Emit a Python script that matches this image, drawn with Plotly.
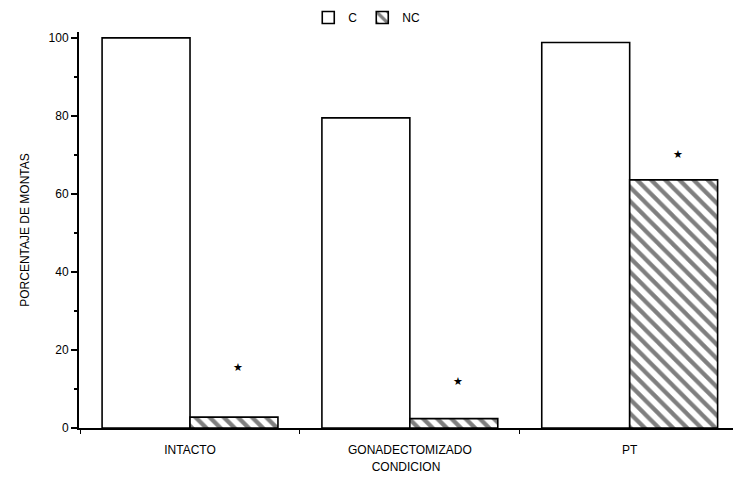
import plotly.graph_objects as go

categories = ["INTACTO", "GONADECTOMIZADO", "PT"]
c_values = [100, 79.5, 98.8]
nc_values = [2.8, 2.4, 63.6]
star_y = [15.5, 12.0, 70.0]
y_ticks = [0, 20, 40, 60, 80, 100]

FONT = "Liberation Sans, Arial, sans-serif"

fig = go.Figure()
fig.add_trace(go.Bar(
    name="C", x=categories, y=c_values,
    marker=dict(color="white", line=dict(color="black", width=1.6)),
))
fig.add_trace(go.Bar(
    name="NC", x=categories, y=nc_values,
    marker=dict(color="white", line=dict(color="black", width=1.6),
                pattern=dict(shape="\\", fgcolor="black", bgcolor="white",
                             size=10, solidity=0.42)),
))

for i, cat in enumerate(categories):
    fig.add_annotation(x=i, y=star_y[i], xref="x", yref="y", xshift=48,
                       text="★", showarrow=False,
                       font=dict(size=11, color="black", family="DejaVu Sans"))

fig.update_layout(
    width=733, height=479,
    margin=dict(l=79, r=0, t=32, b=51),
    paper_bgcolor="white", plot_bgcolor="white",
    barmode="group", bargap=0.2, bargroupgap=0,
    font=dict(family=FONT, size=12, color="black"),
    showlegend=True,
    legend=dict(orientation="h", x=0.44, y=1.0, xanchor="center", yanchor="bottom",
                font=dict(size=12), itemwidth=30, bgcolor="rgba(0,0,0,0)"),
    xaxis=dict(
        type="category", range=[-0.505, 2.47],
        showline=True, linecolor="black", linewidth=2,
        ticks="outside", tickson="boundaries", ticklen=4, tickcolor="black",
        tickfont=dict(size=12), ticklabelstandoff=10,
        showgrid=False, zeroline=False,
        title=dict(text="CONDICION", font=dict(size=12), standoff=6),
    ),
    yaxis=dict(
        range=[0, 101.5], tickvals=y_ticks,
        showline=True, linecolor="black", linewidth=2,
        ticks="outside", ticklen=6, tickcolor="black", tickwidth=1.5,
        minor=dict(dtick=10, tick0=0, ticks="outside", ticklen=3, tickcolor="black"),
        showgrid=False, zeroline=False,
        tickfont=dict(size=12),
        title=dict(text="PORCENTAJE DE MONTAS", font=dict(size=12), standoff=16),
    ),
)

fig.write_html("out.html")
